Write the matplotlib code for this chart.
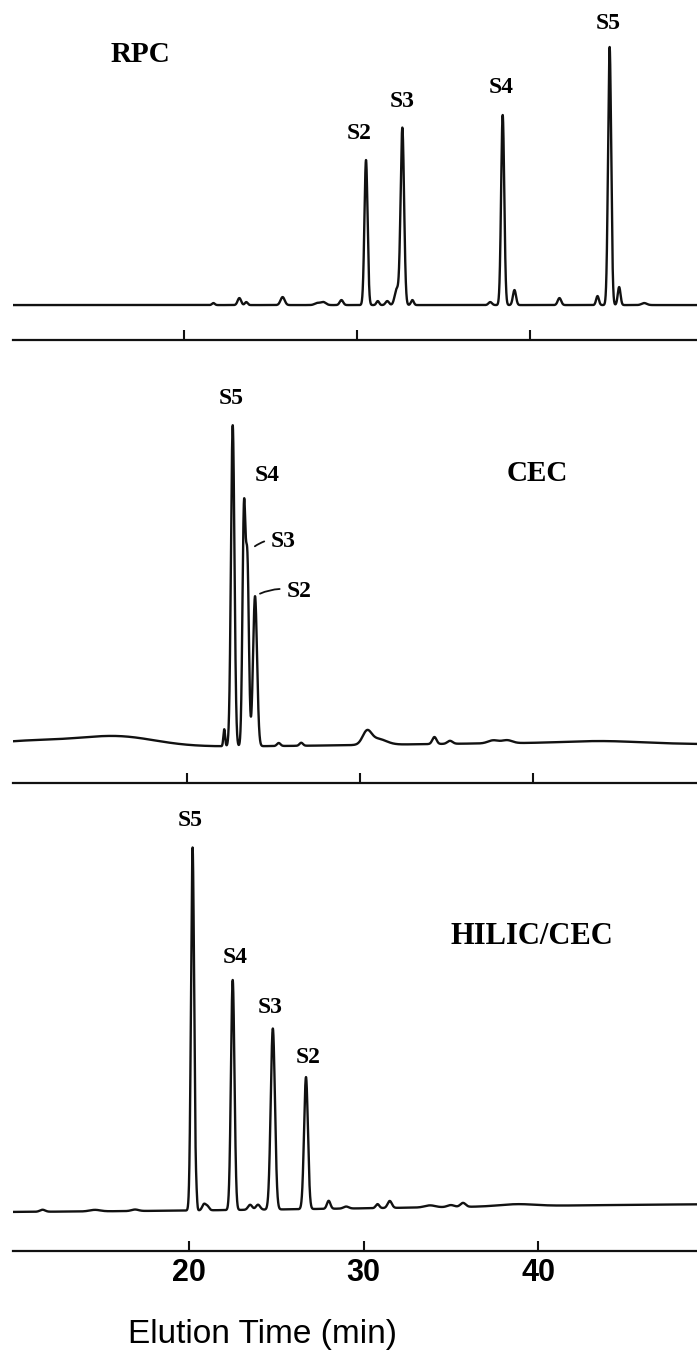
import matplotlib.pyplot as plt
import numpy as np

# main analytes: name, retention time (min), height, peak sigma (min)
rpc_names = ['S2', 'S3', 'S4', 'S5']
rpc_rt = [30.52, 32.62, 38.42, 44.6]
rpc_height = [145, 177, 190, 258]
rpc_sigma = [0.09, 0.1, 0.09, 0.09]

cec_names = ['S5', 'S4', 'S3', 'S2']
cec_rt = [22.64, 23.29, 23.49, 23.93]
cec_height = [321, 233, 177, 150]
cec_sigma = [0.1, 0.087, 0.087, 0.115]

hilic_names = ['S5', 'S4', 'S3', 'S2']
hilic_rt = [20.2, 22.5, 24.8, 26.7]
hilic_height = [363, 230, 181, 132]
hilic_sigma = [0.09, 0.1, 0.12, 0.11]

# minor peaks and baseline features
rpc_minor_rt = [21.7, 23.2, 23.6, 25.7, 27.7, 28.05, 29.1, 31.2, 31.75, 32.3, 33.2,
                37.7, 39.1, 41.7, 43.9, 45.15, 46.6]
rpc_minor_height = [2, 7, 3, 8, 2, 3, 5, 4, 4, 16, 5, 3, 15, 7, 9, 18, 2]
rpc_minor_sigma = [0.08, 0.1, 0.08, 0.12, 0.15, 0.15, 0.1, 0.08, 0.1, 0.12, 0.08,
                   0.1, 0.09, 0.1, 0.08, 0.08, 0.15]

cec_minor_rt = [11.0, 16.0, 42.0, 22.15, 25.3, 26.6, 30.4, 31.0, 34.3, 35.2, 37.7, 38.5, 44.0]
cec_minor_height = [6, 10, 4, 17, 3, 3, 12, 6, 7, 3, 3, 3, 2]
cec_minor_sigma = [2.5, 2.2, 10.0, 0.05, 0.1, 0.1, 0.25, 0.5, 0.12, 0.15, 0.3, 0.3, 2.0]

hilic_minor_rt = [55.0, 11.6, 14.6, 16.9, 20.42, 20.85, 21.05, 23.5, 23.95, 28.0, 29.0,
                  30.8, 31.5, 33.8, 35.0, 35.7, 38.8]
hilic_minor_height = [9, 2, 1.5, 1.5, 10, 6, 4, 5, 5, 8, 2, 4, 7, 2, 2, 4, 2]
hilic_minor_sigma = [22.0, 0.15, 0.3, 0.2, 0.04, 0.1, 0.1, 0.12, 0.12, 0.1, 0.15,
                     0.1, 0.12, 0.3, 0.2, 0.15, 1.0]

panel_titles = ['RPC', 'CEC', 'HILIC/CEC']
time_ticks = [20, 30, 40]


def chromatogram(t, rt, height, sigma):
    y = np.zeros_like(t)
    for r, h, s in zip(rt, height, sigma):
        y += h * np.exp(-(t - r) ** 2 / (2 * s ** 2))
    return y


fig = plt.figure(figsize=(6.97, 13.57), dpi=100)

# axes boxes in figure fractions, x range and y range per panel
boxes = [[0.0187, 0.7494, 0.9813, 0.2506],
         [0.0187, 0.4230, 0.9813, 0.3228],
         [0.0187, 0.0781, 0.9813, 0.3397]]
xlims = [(10.12, 49.65), (9.94, 49.48), (9.91, 49.11)]
ylims = [(-35, 305), (-36, 402), (-38, 423)]

panels = [
    (rpc_names, rpc_rt, rpc_height, rpc_sigma, rpc_minor_rt, rpc_minor_height, rpc_minor_sigma),
    (cec_names, cec_rt, cec_height, cec_sigma, cec_minor_rt, cec_minor_height, cec_minor_sigma),
    (hilic_names, hilic_rt, hilic_height, hilic_sigma, hilic_minor_rt, hilic_minor_height, hilic_minor_sigma),
]

# label offsets from each peak top, in pixels
label_offsets = [
    [(-7, 27), (0, 26), (-2, 28), (-1, 24)],
    [(-2, 27), (23, 25), (36, 11), (44, 5)],
    [(-2, 27), (2, 23), (-3, 21), (2, 20)],
]

serif = ['Liberation Serif', 'DejaVu Serif']
sans = ['Liberation Sans', 'DejaVu Sans']
axes = []
for i, (names, rt, h, s, mrt, mh, ms) in enumerate(panels):
    ax = fig.add_axes(boxes[i])
    axes.append(ax)
    t = np.arange(xlims[i][0], xlims[i][1] + 0.002, 0.002)
    y = chromatogram(t, rt, h, s) + chromatogram(t, mrt, mh, ms)
    ax.plot(t, y, color='#111111', lw=1.7, solid_joinstyle='round')
    ax.set_xlim(*xlims[i])
    ax.set_ylim(*ylims[i])

    for spine in ['top', 'left', 'right']:
        ax.spines[spine].set_visible(False)
    ax.spines['bottom'].set_linewidth(1.6)
    ax.spines['bottom'].set_color('#111111')
    ax.set_yticks([])
    ax.set_xticks(time_ticks)
    ax.tick_params(axis='x', direction='in', length=7, width=1.5, color='#111111', pad=5)
    ax.patch.set_alpha(0)

    for j, name in enumerate(names):
        k = np.argmin(np.abs(t - rt[j]))
        dx, dy = label_offsets[i][j]
        if i == 1 and name in ('S3', 'S2'):
            # tag the overlapping peaks with a short leader line
            ax.annotate(name, xy=(rt[j], y[k]), xytext=(dx, dy), textcoords='offset pixels',
                        ha='center', va='center', fontsize=17, fontweight='bold', family=serif,
                        arrowprops=dict(arrowstyle='-', lw=1.3, color='#111111', relpos=(0, 0.6),
                                        shrinkA=3, shrinkB=7 if name == 'S3' else 4,
                                        connectionstyle='arc3,rad=0.15'))
        else:
            ax.annotate(name, xy=(rt[j], y[k]), xytext=(dx, dy), textcoords='offset pixels',
                        ha='center', va='center', fontsize=17, fontweight='bold', family=serif)

axes[0].set_xticklabels([])
axes[1].set_xticklabels([])
for lab in axes[2].get_xticklabels():
    lab.set_family(sans)
    lab.set_fontweight('bold')
    lab.set_fontsize(22)

# panel names
fig.text(140 / 697, 1 - 54 / 1357, panel_titles[0], ha='center', va='center',
         fontsize=21, fontweight='bold', family=serif)
fig.text(537 / 697, 1 - 473 / 1357, panel_titles[1], ha='center', va='center',
         fontsize=21, fontweight='bold', family=serif)
fig.text(532 / 697, 1 - 937 / 1357, panel_titles[2], ha='center', va='center',
         fontsize=22, fontweight='bold', family=serif)

fig.text(262 / 697, 1 - 1335 / 1357, 'Elution Time (min)', ha='center', va='center',
         fontsize=24, family=sans)

fig.savefig('out.png', dpi=100)
